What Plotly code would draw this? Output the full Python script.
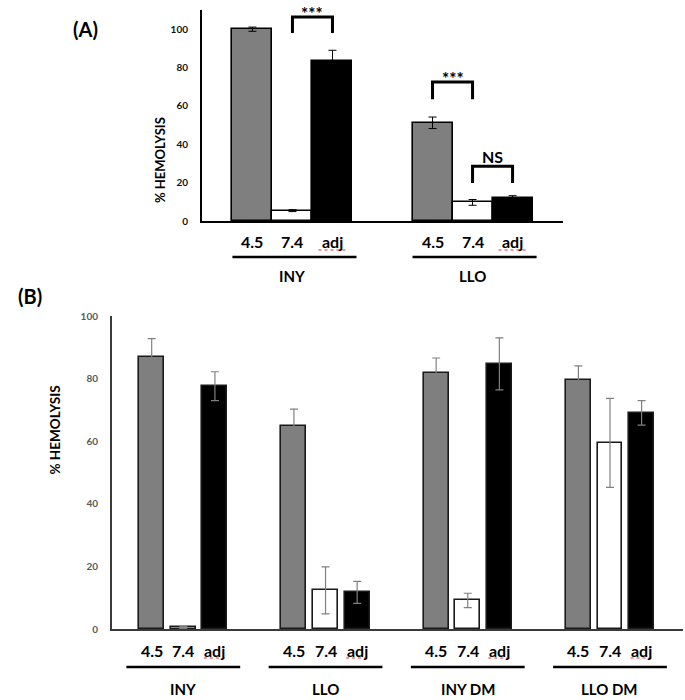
import plotly.graph_objects as go

# ---------------- data ----------------
conditions = ["4.5", "7.4", "adj"]
colors = ["#7f7f7f", "#ffffff", "#000000"]

groups_a = ["INY", "LLO"]
vals_a = {"INY": [100.0, 5.4, 83.2], "LLO": [51.2, 9.7, 12.0]}
errs_a = {"INY": [1.1, 0.5, 5.8], "LLO": [3.0, 1.5, 1.2]}

groups_b = ["INY", "LLO", "INY DM", "LLO DM"]
vals_b = {"INY": [87.0, 0.6, 77.6], "LLO": [65.0, 12.4, 11.8],
          "INY DM": [81.7, 9.2, 84.7], "LLO DM": [79.6, 59.5, 69.1]}
errs_b = {"INY": [5.8, 0.3, 4.6], "LLO": [5.3, 7.5, 3.5],
          "INY DM": [4.9, 2.3, 8.3], "LLO DM": [4.5, 14.2, 3.9]}

# significance brackets for panel A: (group, cond i, cond j, label, top value, leg value)
brackets_a = [("INY", 1, 2, "***", 106.3, 98.0),
              ("LLO", 0, 1, "***", 72.4, 63.5),
              ("LLO", 1, 2, "NS", 28.6, 19.8)]

W, H = 685, 700
FONT = "Lato"

def px_x(p):
    return p / W

def px_y(p):
    return 1 - p / H

fig = go.Figure()

GAP_A = 4.5
GAP_B = 4.5

# ---------------- panel A ----------------
for ci, cond in enumerate(conditions):
    xs = [gi * GAP_A + ci for gi in range(len(groups_a))]
    fig.add_trace(go.Bar(
        x=xs, y=[vals_a[g][ci] for g in groups_a],
        width=1.0, marker=dict(color=colors[ci], line=dict(color="#000000", width=1.6)),
        error_y=dict(type="data", array=[errs_a[g][ci] for g in groups_a],
                     color="#000000", thickness=1, width=4),
        xaxis="x", yaxis="y", showlegend=False, hoverinfo="skip"))

# ---------------- panel B ----------------
for ci, cond in enumerate(conditions):
    xs = [gi * GAP_B + ci for gi in range(len(groups_b))]
    fig.add_trace(go.Bar(
        x=xs, y=[vals_b[g][ci] for g in groups_b],
        width=0.79, marker=dict(color=colors[ci], line=dict(color="#1a1a1a", width=1.6)),
        error_y=dict(type="data", array=[errs_b[g][ci] for g in groups_b],
                     color="#808080", thickness=1.2, width=4),
        xaxis="x2", yaxis="y2", showlegend=False, hoverinfo="skip"))

shapes = []
annotations = []

# brackets panel A
for g, i, j, lab, top, leg in brackets_a:
    gi = groups_a.index(g)
    x0 = gi * GAP_A + i
    x1 = gi * GAP_A + j
    shapes.append(dict(type="path", xref="x", yref="y",
                       path=f"M {x0} {leg} L {x0} {top} L {x1} {top} L {x1} {leg}",
                       line=dict(color="#000000", width=3)))
    is_star = lab == "***"
    annotations.append(dict(x=(x0 + x1) / 2, y=top, xref="x", yref="y", text=f"<b>{lab}</b>",
                            showarrow=False, yanchor="bottom", borderpad=0,
                            yshift=-8 if is_star else -1,
                            font=dict(family=FONT, size=17 if is_star else 16, color="#000000")))

def add_labels(groups, gap, xref, cond_y, line_y, grp_y, half, cond_size, grp_size):
    for gi, g in enumerate(groups):
        c = gi * gap + 1
        for ci, cond in enumerate(conditions):
            annotations.append(dict(x=gi * gap + ci, y=px_y(cond_y), xref=xref, yref="paper",
                                    text=f"<b>{cond}</b>", showarrow=False, yanchor="middle",
                                    font=dict(family=FONT, size=cond_size, color="#000000")))
            if cond == "adj":
                shapes.append(dict(type="line", xref=xref, yref="paper",
                                   x0=gi * gap + ci - 0.35, x1=gi * gap + ci + 0.4,
                                   y0=px_y(cond_y + 8), y1=px_y(cond_y + 8),
                                   line=dict(color="#e03030", width=1, dash="dot")))
        shapes.append(dict(type="line", xref=xref, yref="paper",
                           x0=c - half[0], x1=c + half[1], y0=px_y(line_y), y1=px_y(line_y),
                           line=dict(color="#000000", width=2.5)))
        annotations.append(dict(x=c, y=px_y(grp_y), xref=xref, yref="paper",
                                text=f"<b>{g}</b>", showarrow=False, yanchor="middle",
                                font=dict(family=FONT, size=grp_size, color="#000000")))

add_labels(groups_a, GAP_A, "x", 242, 257, 276, (1.5, 1.6), 16, 15)
add_labels(groups_b, GAP_B, "x2", 650, 667, 689, (1.8, 1.8), 16, 15)

# panel labels and axis titles
annotations.append(dict(x=px_x(71), y=px_y(15), xref="paper", yref="paper", text="<b>(A)</b>",
                        showarrow=False, font=dict(family=FONT, size=20, color="#000000")))
annotations.append(dict(x=px_x(16), y=px_y(296), xref="paper", yref="paper", text="<b>(B)</b>",
                        showarrow=False, font=dict(family=FONT, size=20, color="#000000")))
annotations.append(dict(x=px_x(150), y=px_y(115), xref="paper", yref="paper", text="<b>% HEMOLYSIS</b>",
                        textangle=-90, showarrow=False, font=dict(family=FONT, size=13, color="#000000")))
annotations.append(dict(x=px_x(45), y=px_y(477), xref="paper", yref="paper", text="<b>% HEMOLYSIS</b>",
                        textangle=-90, showarrow=False, font=dict(family=FONT, size=13.5, color="#000000")))

fig.update_layout(
    width=W, height=H, autosize=False,
    margin=dict(l=0, r=0, t=0, b=0, pad=0),
    paper_bgcolor="white", plot_bgcolor="white",
    barmode="overlay", bargap=0,
    shapes=shapes, annotations=annotations,
    xaxis=dict(domain=[px_x(202), px_x(563)], range=[-1.26, 7.76], showticklabels=False,
               showgrid=False, zeroline=False, showline=True, linecolor="#000000", linewidth=2,
               ticks="", anchor="y", automargin=False),
    yaxis=dict(domain=[px_y(221), px_y(10)], range=[0, 110], tickvals=[0, 20, 40, 60, 80, 100],
               showgrid=False, zeroline=False, showline=True, linecolor="#000000", linewidth=2,
               ticks="", ticklabelstandoff=10, anchor="x", automargin=False,
               tickfont=dict(family=FONT, size=10, color="#111111", weight="bold")),
    xaxis2=dict(domain=[px_x(112), px_x(683)], range=[-1.256, 16.81], showticklabels=False,
                showgrid=False, zeroline=False, showline=True, linecolor="#3a3a3a", linewidth=2,
                ticks="", anchor="y2", automargin=False),
    yaxis2=dict(domain=[px_y(629.3), px_y(316)], range=[0, 100], tickvals=[0, 20, 40, 60, 80, 100],
                showgrid=False, zeroline=False, showline=True, linecolor="#3a3a3a", linewidth=2,
                ticks="", ticklabelstandoff=10, anchor="x2", automargin=False,
                tickfont=dict(family=FONT, size=10, color="#595959", weight="bold")),
)

fig.write_html("out.html", config={"displayModeBar": False},
               post_script="document.body.style.margin='0px';")
